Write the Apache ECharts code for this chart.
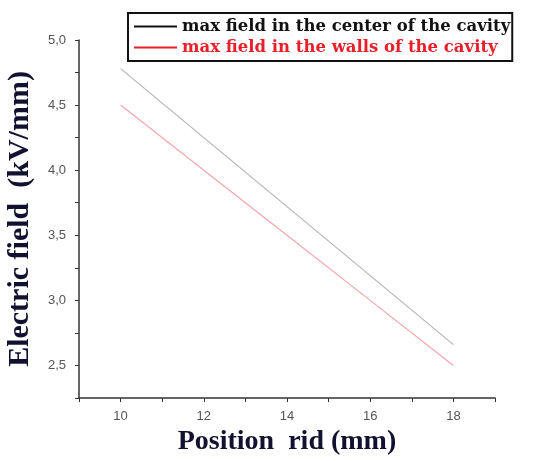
<!DOCTYPE html>
<html><head><meta charset="utf-8">
<script src="https://cdn.jsdelivr.net/npm/echarts@6/dist/echarts.min.js"></script>
<style>html,body{margin:0;padding:0;background:#fff}#c{width:554px;height:461px}</style>
</head><body><div id="c"></div>
<script>
const positions = [10, 12, 14, 16, 18];
const centerField = [4.78, 4.25, 3.72, 3.19, 2.66];
const wallField = [4.5, 4.0, 3.5, 3.0, 2.5];
const seriesNames = ['max field in the center of the cavity', 'max field in the walls of the cavity'];

const chart = echarts.init(document.getElementById('c'));
const fmtY = v => {
  const r = Math.round(v * 100) / 100;
  if (Math.abs(r * 2 - Math.round(r * 2)) > 1e-6) return '';
  return r.toFixed(1).replace('.', ',');
};
chart.setOption({
  animation: false,
  backgroundColor: '#fff',
  grid: { left: 79, top: 40, right: 59, bottom: 63, containLabel: false, outerBoundsMode: 'none' },
  legend: {
    orient: 'vertical', left: 128, top: 13,
    borderColor: '#111', borderWidth: 2, padding: [5, 2, 5, 6],
    itemGap: 4, itemWidth: 43, itemHeight: 2, icon: 'rect',
    textStyle: { fontFamily: 'DejaVu Serif', fontWeight: 'bold', fontSize: 16.5 },
    data: [
      { name: seriesNames[0], textStyle: { color: '#111' } },
      { name: seriesNames[1], textStyle: { color: '#e8202a' } }
    ]
  },
  xAxis: {
    type: 'value', min: 9, max: 19, interval: 1,
    name: 'Position  rid (mm)', nameLocation: 'middle', nameGap: 27,
    nameTextStyle: { fontFamily: 'Liberation Serif', fontWeight: 'bold', fontSize: 28, color: '#121230' },
    axisLine: { lineStyle: { color: '#333', width: 1.5 } },
    axisTick: { inside: false, length: 4, lineStyle: { color: '#333' } },
    axisLabel: { color: '#555', fontSize: 13, fontFamily: 'Liberation Sans', margin: 12,
      formatter: v => (v % 2 === 0 ? String(v) : '') },
    splitLine: { show: false }
  },
  yAxis: {
    type: 'value', min: 2.25, max: 5.0, interval: 0.25,
    name: 'Electric field  (kV/mm)', nameLocation: 'middle', nameGap: 44, nameRotate: 90,
    nameTextStyle: { fontFamily: 'Liberation Serif', fontWeight: 'bold', fontSize: 30, color: '#121230' },
    axisLine: { show: true, lineStyle: { color: '#333', width: 1.5 } },
    axisTick: { show: true, inside: false, length: 4, lineStyle: { color: '#333' } },
    axisLabel: { color: '#555', fontSize: 13, fontFamily: 'Liberation Sans', margin: 13, formatter: fmtY },
    splitLine: { show: false }
  },
  series: [
    { name: seriesNames[0], type: 'line', data: positions.map((x, i) => [x, centerField[i]]),
      showSymbol: false, symbol: 'none', color: '#111',
      lineStyle: { color: '#b5b5b5', width: 1.2 } },
    { name: seriesNames[1], type: 'line', data: positions.map((x, i) => [x, wallField[i]]),
      showSymbol: false, symbol: 'none', color: '#e8202a',
      lineStyle: { color: '#f4a6ae', width: 1.2 } }
  ]
});
</script></body></html>
